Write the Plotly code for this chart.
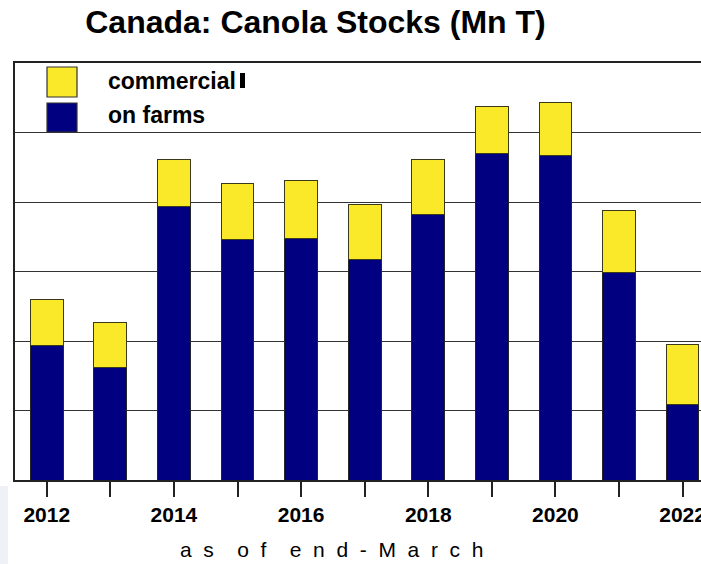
import plotly.graph_objects as go

# Canada canola stocks at end-March, million tonnes
years = list(range(2012, 2023))
on_farms = [3.88, 3.23, 7.87, 6.93, 6.95, 6.35, 7.64, 9.41, 9.34, 5.96, 2.18]
commercial = [1.32, 1.29, 1.36, 1.61, 1.67, 1.57, 1.57, 1.34, 1.51, 1.79, 1.73]
tick_labels = [str(y) if y % 2 == 0 else "" for y in years]

NAVY = "#000080"
YELLOW = "#F9E928"
OUTLINE = "#262626"
FONT = "Liberation Sans, Arial, sans-serif"

fig = go.Figure()
fig.add_bar(x=years, y=on_farms, name="on farms",
            marker=dict(color=NAVY, line=dict(color=OUTLINE, width=1)))
fig.add_bar(x=years, y=commercial, name="commercial",
            marker=dict(color=YELLOW, line=dict(color="#3a3a1a", width=1)))

# plot area spans 15..701 px horizontally, 63..480 px vertically
W, H = 701, 564
L, T, B = 15, 63, 480


def px_x(p):
    return (p - L) / (W - L)


def px_y(p):
    return (B - p) / (B - T)


shapes = [
    # faint panel at lower-left corner
    dict(type="rect", xref="paper", yref="paper", layer="below",
         x0=px_x(0), x1=px_x(8), y0=px_y(486), y1=px_y(564),
         fillcolor="#eef1f6", line=dict(width=0)),
    # legend swatches
    dict(type="rect", xref="paper", yref="paper",
         x0=px_x(47), x1=px_x(77), y0=px_y(97), y1=px_y(67),
         fillcolor=YELLOW, line=dict(color="#333", width=1.2)),
    dict(type="rect", xref="paper", yref="paper",
         x0=px_x(47), x1=px_x(77), y0=px_y(132), y1=px_y(103),
         fillcolor=NAVY, line=dict(color="#333", width=1.2)),
    dict(type="rect", xref="paper", yref="paper",
         x0=px_x(240), x1=px_x(245), y0=px_y(88), y1=px_y(73),
         fillcolor="black", line=dict(width=0)),
]

NB = "\u00a0"
letter_gap = NB * 2
word_gap = NB * 4
axis_caption = word_gap.join(letter_gap.join(w) for w in ["as", "of", "end-March"])

annotations = [
    dict(text="<b>commercial</b>", xref="paper", yref="paper",
         x=px_x(106), y=px_y(81), xanchor="left", yanchor="middle",
         showarrow=False, font=dict(family=FONT, size=23, color="black")),
    dict(text="<b>on farms</b>", xref="paper", yref="paper",
         x=px_x(106), y=px_y(115), xanchor="left", yanchor="middle",
         showarrow=False, font=dict(family=FONT, size=23, color="black")),
    dict(text=axis_caption, xref="paper", yref="paper",
         x=px_x(331), y=px_y(549), xanchor="center", yanchor="middle",
         showarrow=False, font=dict(family=FONT, size=21, color="black")),
]

fig.update_layout(
    width=W, height=H, autosize=False,
    margin=dict(l=L, r=0, t=T, b=H - B, pad=0, autoexpand=False),
    paper_bgcolor="white", plot_bgcolor="white",
    barmode="stack", bargap=0.485,
    showlegend=False,
    title=dict(text="<b>Canada: Canola Stocks (Mn T)</b>",
               xref="container", yref="container",
               x=315.5 / W, y=1 - 22 / H, xanchor="center", yanchor="middle",
               font=dict(family=FONT, size=32, color="black")),
    xaxis=dict(range=[2011.5, 2022.29], tickmode="array",
               tickvals=years, ticktext=tick_labels,
               ticks="outside", ticklen=15, tickwidth=1.5, tickcolor="#222",
               showline=True, linecolor="#222", linewidth=1.5, mirror=True,
               showgrid=False, zeroline=False, automargin=False,
               ticklabeloverflow="allow",
               tickfont=dict(family=FONT, size=21, color="black", weight="bold")),
    yaxis=dict(range=[0, 12], dtick=2, showgrid=True,
               gridcolor="#333", gridwidth=1.3,
               showticklabels=False, ticks="", automargin=False,
               showline=True, linecolor="#222", linewidth=1.5,
               zeroline=False),
    shapes=shapes,
    annotations=annotations,
)

fig.write_html("out.html")
